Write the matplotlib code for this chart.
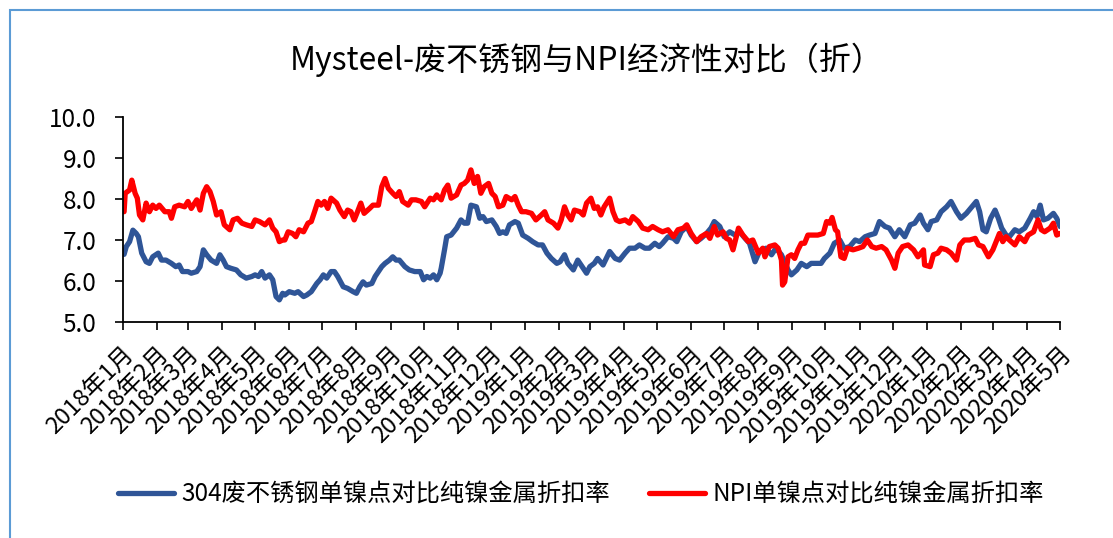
# Mysteel 废不锈钢与NPI经济性对比 - line chart

import pandas as pd
import matplotlib
matplotlib.use('Agg')
import matplotlib.pyplot as plt
import matplotlib.transforms as mtransforms
from matplotlib.patches import Rectangle

plt.rcParams['font.family'] = ['Noto Sans CJK SC', 'DejaVu Sans']

'''
    Data read off the reference chart (days counted from 2018-01-01)
'''

title = 'Mysteel-废不锈钢与NPI经济性对比（折）'
scrap_label = '304废不锈钢单镍点对比纯镍金属折扣率'
npi_label = 'NPI单镍点对比纯镍金属折扣率'

scrap_days = [1, 3, 6, 9, 12, 14, 17, 21, 24, 27, 32, 35, 39, 44, 48, 51, 54, 59, 62, 67,
              70, 73, 76, 80, 85, 88, 91, 94, 98, 103, 107, 112, 117, 120, 123, 126, 129, 133, 136, 139,
              142, 145,
              147, 151, 156, 159, 164, 167, 171, 176, 179, 182, 185, 189, 192, 195, 200, 204, 209, 212, 215, 218,
              221, 226, 229, 232, 235, 238, 242, 245, 248, 251, 256, 260, 265, 270, 273, 276, 279, 282, 285, 288,
              289, 292, 294, 298, 303, 307, 310, 313, 316, 321, 324, 327, 330, 335, 339, 342, 345, 348, 351, 356,
              359, 363, 368, 372, 377, 381, 385, 389, 394, 397, 401, 404, 409, 413, 416, 421, 424, 428, 431, 436,
              442, 447, 451, 456, 460, 465, 469, 474, 478, 483, 487, 490, 495, 500, 503, 507, 512, 516, 521, 525,
              530, 534, 537, 542, 546, 551, 556, 560, 565, 569, 574, 578, 581,
              584, 589, 593, 598, 604, 607, 612, 616, 621, 625, 630, 634, 637, 642, 646, 651, 655, 660, 665, 669,
              674, 678, 683, 687, 692, 696, 701, 705, 710, 715, 719, 724, 727,
              728, 731, 734, 739, 743, 748, 752, 757, 761, 766, 771, 775, 778, 781, 784, 788, 792, 795, 798, 802,
              805, 810, 814, 819, 824, 827, 830, 833, 836, 840, 845, 848, 851]
scrap_vals = [6.65, 6.84, 6.96, 7.24, 7.16, 7.08, 6.68, 6.47, 6.43, 6.59, 6.68, 6.51, 6.51, 6.43, 6.35, 6.39, 6.23, 6.23, 6.19, 6.23,
              6.35, 6.76, 6.64, 6.51, 6.43, 6.64, 6.51, 6.35, 6.31, 6.27, 6.15, 6.07, 6.11, 6.15, 6.11, 6.23, 6.07, 6.15, 6.03, 5.62,
              5.54, 5.70,
              5.66, 5.74, 5.70, 5.74, 5.62, 5.66, 5.74, 5.94, 6.03, 6.15, 6.07, 6.23, 6.23, 6.11, 5.86, 5.82, 5.74, 5.70, 5.86, 5.98,
              5.90, 5.94, 6.11, 6.23, 6.35, 6.43, 6.51, 6.59, 6.51, 6.51, 6.35, 6.27, 6.23, 6.23, 6.03, 6.11, 6.07, 6.15, 6.03, 6.19,
              6.31, 6.76, 7.08, 7.12, 7.29, 7.49, 7.41, 7.41, 7.85, 7.81, 7.53, 7.57, 7.45, 7.49, 7.33, 7.16, 7.20, 7.16, 7.37, 7.45,
              7.41, 7.12, 7.04, 6.96, 6.88, 6.88, 6.68, 6.55, 6.43, 6.47, 6.64, 6.43, 6.27, 6.51, 6.39, 6.19, 6.35, 6.43, 6.55, 6.39,
              6.72, 6.55, 6.51, 6.68, 6.80, 6.80, 6.88, 6.80, 6.80, 6.92, 6.84, 6.92, 7.08, 7.04, 6.96, 7.20, 7.33, 7.12, 6.96, 7.04,
              7.16, 7.29, 7.45, 7.33, 7.08, 7.20, 7.12, 7.20, 7.04, 6.92, 6.47, 6.72, 6.76,
              6.80, 6.64, 6.80, 6.64, 6.27, 6.15, 6.27, 6.43, 6.35, 6.43, 6.43, 6.43, 6.55, 6.68, 6.92, 7.00, 6.80, 6.84, 7.00, 6.96,
              7.08, 7.12, 7.16, 7.45, 7.33, 7.29, 7.08, 7.25, 7.08, 7.37, 7.41, 7.61, 7.41,
              7.37, 7.25, 7.45, 7.49, 7.69, 7.81, 7.94, 7.69, 7.53, 7.65, 7.81, 7.94, 7.69, 7.25, 7.20, 7.53, 7.73, 7.53, 7.29, 7.12,
              7.08, 7.25, 7.20, 7.29, 7.53, 7.69, 7.57, 7.85, 7.49, 7.53, 7.65, 7.53, 7.33]

npi_days = [1, 2, 6, 8, 11, 13, 15, 18, 21, 24, 27, 30, 33, 38, 42, 44, 47, 51, 56, 59,
            62, 67, 70, 73, 76, 79, 82, 85, 89, 92, 97, 100, 104, 108, 112, 117, 120, 124, 129, 133,
            136, 139, 142, 145,
            147, 150, 154, 157, 160, 164, 168, 171, 174, 177, 180, 183, 186, 189, 194, 197, 201, 204, 207, 210,
            213, 216, 219, 224, 227, 232, 235, 238, 241, 245, 248, 251, 254, 259, 262, 266, 271, 274, 279, 282,
            285,
            286, 289, 292, 295, 298, 303, 307, 310, 313, 316, 319, 322, 325, 328, 332, 335, 338, 341, 345, 348,
            353, 356, 359, 362, 366, 371, 375, 380, 383, 386, 391, 395, 398, 401, 404, 407, 410, 415, 418, 421,
            425, 428, 431, 434,
            437, 442, 445, 448, 451, 456, 460, 463, 468, 472, 477, 481, 486, 490, 495, 500, 504, 509, 512, 516,
            521, 525, 530, 533, 537, 540, 545, 548, 551, 554, 559, 563, 568, 572, 577, 581,
            583, 587, 592, 595, 598, 599, 601, 604, 607, 610, 613, 616, 619, 622, 627, 631, 636, 639, 642, 644,
            647, 649, 652, 655, 658, 663, 668, 672, 676, 680, 684, 689, 693, 698, 701, 704, 708, 713, 718, 722,
            727,
            728, 733, 736, 740, 743, 748, 752, 757, 760, 764, 769, 774, 777, 781, 786, 790, 793, 796, 799, 802,
            805, 810, 814, 819, 822, 827, 831, 834, 837, 842, 845, 848, 851]
npi_vals = [7.69, 8.14, 8.22, 8.46, 8.14, 8.02, 7.61, 7.49, 7.90, 7.69, 7.85, 7.77, 7.85, 7.69, 7.69, 7.53, 7.81, 7.85, 7.81, 7.94,
            7.77, 7.98, 7.73, 8.14, 8.30, 8.18, 7.94, 7.61, 7.69, 7.37, 7.25, 7.49, 7.53, 7.41, 7.37, 7.33, 7.49, 7.45, 7.37, 7.49,
            7.29, 7.20, 6.96, 7.00,
            7.00, 7.20, 7.16, 7.08, 7.25, 7.20, 7.41, 7.45, 7.69, 7.94, 7.85, 7.94, 7.77, 8.02, 7.90, 7.73, 7.57, 7.73, 7.69, 7.49,
            7.69, 7.90, 7.65, 7.77, 7.85, 7.85, 8.30, 8.50, 8.26, 8.14, 8.06, 8.18, 7.94, 7.85, 7.98, 7.98, 7.94, 7.81, 8.02, 7.98,
            8.10,
            8.06, 7.98, 8.22, 8.34, 8.02, 8.10, 8.34, 8.38, 8.46, 8.71, 8.38, 8.55, 8.14, 8.30, 8.38, 8.14, 8.06, 7.81, 7.85, 8.06,
            7.98, 8.06, 7.85, 7.69, 7.69, 7.65, 7.49, 7.61, 7.69, 7.49, 7.41, 7.29, 7.49, 7.81, 7.61, 7.49, 7.73, 7.69, 7.61, 7.90,
            8.02, 7.77, 7.81, 7.61,
            7.81, 8.02, 7.69, 7.49, 7.45, 7.49, 7.41, 7.57, 7.45, 7.29, 7.25, 7.33, 7.25, 7.20, 7.25, 7.08, 7.25, 7.29, 7.37, 7.16,
            6.96, 7.08, 7.16, 7.04, 7.33, 7.12, 7.20, 7.04, 7.00, 6.76, 7.29, 7.12, 6.96, 7.00, 6.68, 6.80,
            6.59, 6.84, 6.88, 6.80, 6.51, 5.90, 5.98, 6.59, 6.64, 6.55, 6.76, 6.92, 6.92, 7.12, 7.12, 7.12, 7.16, 7.45, 7.41, 7.55,
            7.25, 7.20, 6.59, 6.55, 6.80, 6.76, 6.80, 6.84, 7.00, 6.84, 6.80, 6.84, 6.76, 6.51, 6.31, 6.68, 6.84, 6.88, 6.76, 6.59,
            6.76,
            6.39, 6.35, 6.64, 6.68, 6.80, 6.76, 6.68, 6.51, 6.88, 7.00, 7.00, 7.04, 6.88, 6.84, 6.59, 6.76, 6.96, 7.16, 6.96, 7.08,
            7.00, 6.88, 7.08, 6.96, 7.12, 7.20, 7.49, 7.25, 7.20, 7.29, 7.41, 7.12, 7.16]

assert len(scrap_days) == len(scrap_vals)
assert len(npi_days) == len(npi_vals)

start = pd.Timestamp('2018-01-01')
scrap_dates = start + pd.to_timedelta(scrap_days, unit='D')
npi_dates = start + pd.to_timedelta(npi_days, unit='D')

months = pd.date_range('2018-01-01', '2020-05-01', freq='MS')
month_labels = [f'{d.year}年{d.month}月' for d in months]

'''
    Plot
'''

fig = plt.figure(figsize=(11.13, 5.38), dpi=100)
ax = fig.add_axes([0.1105, 0.4015, 0.8419, 0.381])

ax.plot(scrap_dates, scrap_vals, color='#2F5597', lw=3.8, solid_capstyle='round', label=scrap_label)
ax.plot(npi_dates, npi_vals, color='#FF0000', lw=3.8, solid_capstyle='round', label=npi_label)

ax.set_xlim(months[0], months[-1])
ax.set_ylim(5, 10)
ax.set_yticks([5, 6, 7, 8, 9, 10])
ax.set_yticklabels([f'{v:.1f}' for v in [5, 6, 7, 8, 9, 10]], fontsize=17.5)
ax.set_xticks(months)
ax.set_xticklabels(month_labels, fontsize=17, rotation=45, ha='right', rotation_mode='anchor')

# nudge the rotated month labels a little right, like the original
shift = mtransforms.ScaledTranslation(6 / 100, 0, fig.dpi_scale_trans)
for lab in ax.get_xticklabels():
    lab.set_transform(lab.get_transform() + shift)

for s in ['top', 'right']:
    ax.spines[s].set_visible(False)
for s in ['left', 'bottom']:
    ax.spines[s].set_linewidth(1.3)
    ax.spines[s].set_color('#000000')
ax.tick_params(axis='y', length=6, width=1.2, pad=13, colors='#000000')
ax.tick_params(axis='x', length=6, width=1.2, pad=9, colors='#000000')

fig.text(0.527, 0.888, title, ha='center', va='center', fontsize=23)

fig.legend(loc='center', bbox_to_anchor=(0.522, 0.080), ncol=2, frameon=False,
           fontsize=17.5, handlelength=2.3, columnspacing=1.6, handletextpad=0.3)

# light blue border of the chart box (right and bottom edge are cut off)
fig.add_artist(Rectangle((0.009, -0.1), 1.2, 1.082, transform=fig.transFigure,
                         fill=False, ec='#5B9BD5', lw=1.5))

fig.savefig('out.png', dpi=100)
